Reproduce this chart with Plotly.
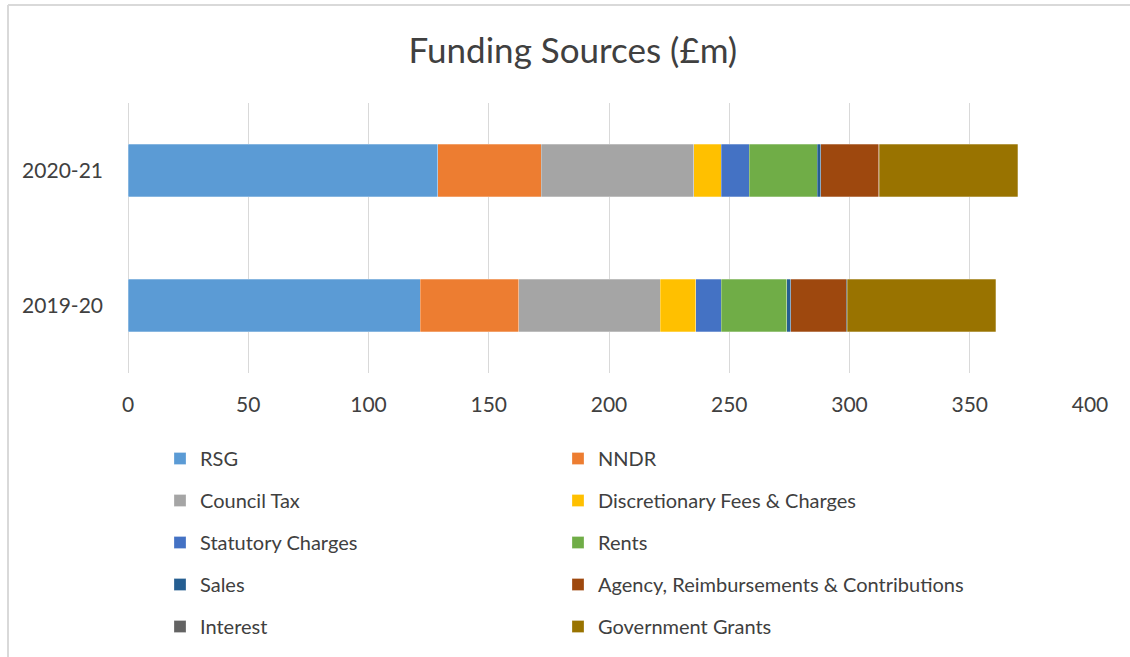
import plotly.graph_objects as go

years = ["2019-20", "2020-21"]

sources = [
    "RSG", "NNDR", "Council Tax", "Discretionary Fees & Charges",
    "Statutory Charges", "Rents", "Sales",
    "Agency, Reimbursements & Contributions", "Interest", "Government Grants",
]

# £m per source, in the order of `years`
rsg = [121.6, 128.7]
nndr = [40.8, 43.2]
council_tax = [58.9, 63.3]
discretionary = [14.8, 11.5]
statutory = [10.6, 11.6]
rents = [27.3, 28.3]
sales = [1.6, 1.5]
agency = [23.1, 24.0]
interest = [0.3, 0.3]
gov_grants = [61.9, 57.5]

values = [rsg, nndr, council_tax, discretionary, statutory, rents, sales,
          agency, interest, gov_grants]

colors = ["#5B9BD5", "#ED7D31", "#A5A5A5", "#FFC000", "#4472C4", "#70AD47",
          "#255E91", "#9E480E", "#636363", "#997300"]

x_ticks = [0, 50, 100, 150, 200, 250, 300, 350, 400]

FONT = "Lato"
TEXT = "#404040"

fig = go.Figure()
for i, (name, vals, col) in enumerate(zip(sources, values, colors)):
    fig.add_trace(go.Bar(
        y=years, x=vals, name=name, orientation="h",
        marker=dict(color=col, line=dict(color="rgba(255,255,255,0.45)", width=0.6)),
        legend="legend" if i % 2 == 0 else "legend2",
        legendgroup=name,
    ))

legend_common = dict(
    orientation="v", yanchor="top", xanchor="left",
    font=dict(family=FONT, size=20, color=TEXT),
    tracegroupgap=13, itemwidth=30, bgcolor="rgba(0,0,0,0)",
)

# chart frame: left and top edges only
frame = dict(type="line", xref="paper", yref="paper",
             line=dict(color="#D9D9D9", width=2), layer="below")

fig.update_layout(
    width=1130, height=657,
    margin=dict(l=128, r=40, t=103, b=284, autoexpand=False),
    barmode="stack", bargap=0.61,
    paper_bgcolor="white", plot_bgcolor="white",
    font=dict(family=FONT, color=TEXT),
    title=dict(text="Funding Sources (£m)", x=0.507, xanchor="center",
               y=0.922, yanchor="middle",
               font=dict(family=FONT, size=35, color=TEXT)),
    xaxis=dict(range=[0, 400], tickvals=x_ticks, showgrid=True,
               gridcolor="#D9D9D9", gridwidth=1.3, zeroline=True,
               zerolinecolor="#D9D9D9", zerolinewidth=1.3, showline=False,
               ticks="", tickfont=dict(family=FONT, size=21, color=TEXT),
               ticklabelstandoff=17, fixedrange=True),
    yaxis=dict(categoryorder="array", categoryarray=years, range=[-0.5, 1.5],
               showgrid=False, showline=False, ticks="",
               tickfont=dict(family=FONT, size=21, color=TEXT),
               ticklabelstandoff=24),
    legend=dict(x=(160 - 128) / 962, y=-(439 - 373) / 270, **legend_common),
    legend2=dict(x=(558 - 128) / 962, y=-(439 - 373) / 270, **legend_common),
    showlegend=True,
    shapes=[
        dict(frame, x0=(8 - 128) / 962, x1=(8 - 128) / 962,
             y0=(373 - 700) / 270, y1=(373 - 5) / 270),
        dict(frame, x0=(8 - 128) / 962, x1=(1200 - 128) / 962,
             y0=(373 - 5) / 270, y1=(373 - 5) / 270),
    ],
)

fig.write_html("out.html")
